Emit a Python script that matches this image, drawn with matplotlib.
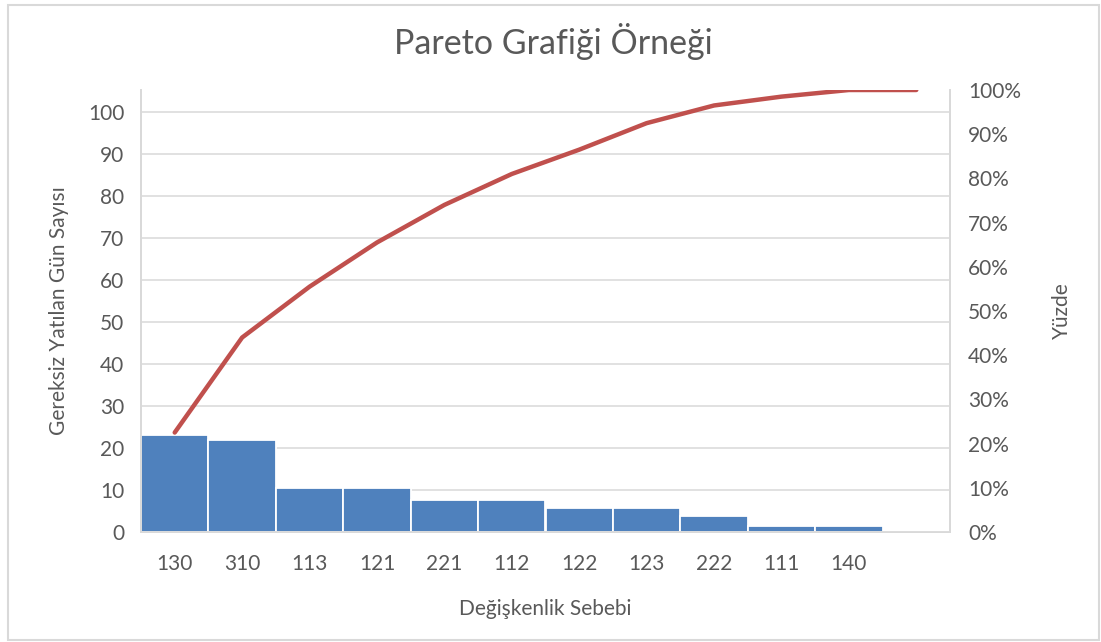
import matplotlib
matplotlib.use("Agg")
import matplotlib.pyplot as plt
from matplotlib.patches import Rectangle
from matplotlib.ticker import FuncFormatter

plt.rcParams["font.family"] = ["Lato", "DejaVu Sans"]

# değişkenlik sebepleri ve gereksiz yatılan gün sayıları
sebepler = ["130", "310", "113", "121", "221", "112", "122", "123", "222", "111", "140", ""]
gun_sayisi = [23, 22, 10.5, 10.5, 7.6, 7.6, 5.7, 5.7, 3.8, 1.4, 1.4, 0]
kumulatif_yuzde = [22.5, 44, 55.5, 65.5, 74, 81, 86.5, 92.5, 96.5, 98.5, 100, 100]

C_BAR = "#4F81BD"
C_LINE = "#C0504D"
C_TEXT = "#595959"
C_GRID = "#D9D9D9"

fig = plt.figure(figsize=(11.01, 6.42), dpi=100)
fig.patch.set_facecolor("white")
fig.patches.append(Rectangle((8 / 1101, 2 / 642), 1091 / 1101, 635 / 642,
                             transform=fig.transFigure, fill=False,
                             edgecolor=C_GRID, linewidth=1.5))

ax = fig.add_axes([141 / 1101, 1 - 532 / 642, 809 / 1101, 442 / 642])
x = range(len(sebepler))
ax.bar(x, gun_sayisi, width=1.0, color=C_BAR, edgecolor="white",
       linewidth=1.3, zorder=3)
ax.set_xlim(-0.5, len(sebepler) - 0.5)
ax.set_ylim(0, 105.2)
ax.set_yticks(range(0, 101, 10))
ax.set_xticks(list(x))
ax.set_xticklabels(sebepler)
ax.grid(axis="y", color=C_GRID, linewidth=1.1, zorder=0)
ax.tick_params(axis="both", length=0, labelsize=15, colors=C_TEXT)
ax.tick_params(axis="y", pad=12)
ax.tick_params(axis="x", pad=16)
ax.spines["top"].set_visible(False)
for side in ["left", "right", "bottom"]:
    ax.spines[side].set_color(C_GRID)
    ax.spines[side].set_linewidth(1.3)

# kümülatif yüzde çizgisi (sağ eksen)
ax2 = ax.twinx()
ax2.plot(x, kumulatif_yuzde, color=C_LINE, linewidth=3.2,
         solid_capstyle="round", zorder=4)
ax2.set_ylim(0, 100)
ax2.set_yticks(range(0, 101, 10))
ax2.yaxis.set_major_formatter(FuncFormatter(lambda v, _: f"{v:.0f}%"))
ax2.tick_params(axis="y", length=0, labelsize=15, colors=C_TEXT, pad=13)
ax2.spines["top"].set_visible(False)
for side in ["left", "right", "bottom"]:
    ax2.spines[side].set_color(C_GRID)
    ax2.spines[side].set_linewidth(1.3)

ax.set_ylabel("Gereksiz Yatılan Gün Sayısı", fontsize=15, color=C_TEXT, labelpad=14)
ax2.set_ylabel("Yüzde", fontsize=15, color=C_TEXT, labelpad=22)
ax.set_xlabel("Değişkenlik Sebebi", fontsize=15, color=C_TEXT, labelpad=18)

fig.text(553 / 1101, 1 - 42 / 642, "Pareto Grafiği Örneği", ha="center",
         va="center", fontsize=24.5, color=C_TEXT)

fig.savefig("out.png", dpi=100)
